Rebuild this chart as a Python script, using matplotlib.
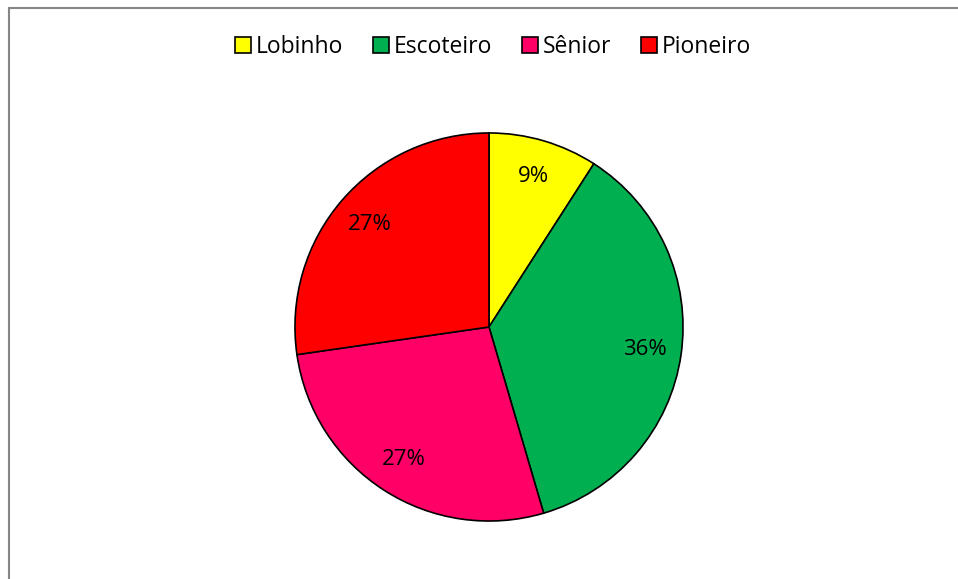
import matplotlib.pyplot as plt
from matplotlib.patches import Rectangle

labels = ['Lobinho', 'Escoteiro', 'Sênior', 'Pioneiro']
values = [1, 4, 3, 3]
colors = ['#FFFF00', '#00B050', '#FF0066', '#FF0000']

plt.rcParams['font.family'] = ['Open Sans', 'DejaVu Sans']

W, H = 958, 579
fig = plt.figure(figsize=(W / 100, H / 100), dpi=100)

# outer chart frame (cut off at right/bottom like the reference)
fig.patches.append(Rectangle((8.5 / W, -0.1), 1.2, 1 - 7.5 / H + 0.1,
                             transform=fig.transFigure, fill=False,
                             edgecolor='#868686', linewidth=1.5))

cx, cy, r = 489, 327, 195
ax = fig.add_axes([(cx - r) / W, 1 - (cy + r) / H, 2 * r / W, 2 * r / H])
wedges, texts, autotexts = ax.pie(values, colors=colors, startangle=90, counterclock=False,
                                  autopct='%1.0f%%', pctdistance=0.81,
                                  wedgeprops=dict(edgecolor='black', linewidth=1.2),
                                  textprops=dict(fontsize=16, color='black'))
ax.set_xlim(-1.005, 1.005)
ax.set_ylim(-1.005, 1.005)
ax.set_aspect('equal')

fig.legend(wedges, labels, loc='center', bbox_to_anchor=(493 / W, 1 - 47 / H), ncol=4,
           frameon=False, fontsize=16.5, handlelength=0.7, handleheight=0.7,
           handletextpad=0.2, columnspacing=1.3)

fig.savefig('out.png', dpi=100)
